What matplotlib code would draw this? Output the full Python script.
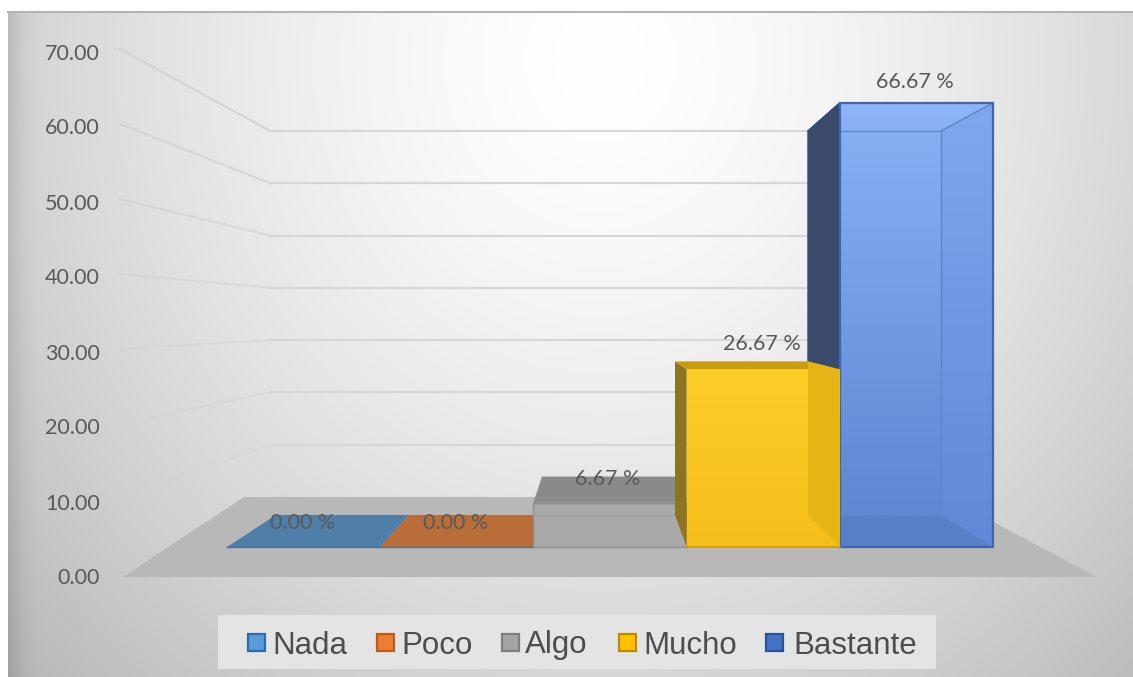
import numpy as np
import matplotlib
matplotlib.use('Agg')
import matplotlib.pyplot as plt
from matplotlib.colors import to_rgb
from matplotlib.patches import Polygon, Rectangle

plt.rcParams['font.family'] = ['Lato', 'DejaVu Sans']

# data
categories = ['Nada', 'Poco', 'Algo', 'Mucho', 'Bastante']
values = [0.00, 0.00, 6.67, 26.67, 66.67]
y_ticks = [0, 10, 20, 30, 40, 50, 60, 70]

legend_colors = ['#5b9bd5', '#ed7d31', '#a5a5a5', '#ffc000', '#4472c4']
legend_edges = ['#2e6da4', '#b65f1f', '#7f7f7f', '#b88c00', '#2f528f']
legend_box_x = [248, 377, 502, 619, 766]
legend_text_x = [272, 401, 525, 643, 793]


# fake 3d projection: front plane and back plane of the bars
def front(i, v):
    return 227 + 153.2 * i, 547 - 6.66 * v


def back(i, v):
    return 276 + 133.0 * i, 515 - 5.76 * v


def gradient_poly(ax, verts, top, bottom, z, alpha=1.0):
    verts = np.array(verts, dtype=float)
    poly = Polygon(verts, closed=True, transform=ax.transData, fc='none', ec='none')
    ax.add_patch(poly)
    c = np.linspace(0, 1, 64)[:, None, None]
    img = (1 - c) * np.array(to_rgb(top)) + c * np.array(to_rgb(bottom))
    im = ax.imshow(img, extent=(verts[:, 0].min(), verts[:, 0].max(),
                                verts[:, 1].max(), verts[:, 1].min()),
                   aspect='auto', zorder=z, alpha=alpha, interpolation='bilinear')
    im.set_clip_path(poly)


fig = plt.figure(figsize=(11.33, 6.77), dpi=100)
ax = fig.add_axes([0, 0, 1, 1])

# background panel
xx, yy = np.meshgrid(np.arange(8, 1133), np.arange(12, 677))
dist = np.sqrt(((xx - 600) / 640) ** 2 + ((yy - 60) / 700) ** 2)
shade = 255 - 50 * np.clip(dist, 0, 1.4) ** 1.5
shade -= 22 * np.clip(1 - (xx - 8) / 35, 0, 1) ** 2
shade = np.clip(shade, 0, 255) / 255
ax.imshow(np.dstack([shade] * 3), extent=(8, 1133, 677, 12), aspect='auto', zorder=0)
ax.plot([8, 1133], [12, 12], color='#b4b4b4', lw=1.5, zorder=1)

# gridlines on side wall and back wall
for t in y_ticks[1:]:
    yl = 574 - 7.5 * t
    yb = 497 - 5.23 * t
    a = 0.15 + 0.75 * t / 70
    ax.plot([120, 270], [yl, yb], color='#d2d2d2', lw=1.5, alpha=a, zorder=2)
    ax.plot([270, 945], [yb, yb], color='#d6d6d6', lw=1.5, zorder=2)

# floor
ax.add_patch(Polygon([(123, 577), (1097, 577), (946, 497), (244, 497)],
                     fc='#b8b8b8', ec='none', zorder=3))

# flat bars (value 0)
for i in range(2):
    v = values[i]
    ax.add_patch(Polygon([front(i, v), front(i + 1, v), back(i + 1, v), back(i, v)],
                         fc=['#4f7ea8', '#b96d38'][i], ec='none', zorder=4))
ax.plot([front(0, 0)[0], front(2, 0)[0]], [547, 547], color='#4f6f8f', lw=1, zorder=4)

# Algo
i = 2
v = values[i]
ax.add_patch(Polygon([back(i, v), back(i + 1, v), front(i + 1, v), front(i, v)],
                     fc='#8a8a8a', ec='none', zorder=5))
ax.add_patch(Polygon([front(i, v), front(i + 1, v), front(i + 1, 0), front(i, 0)],
                     fc='#a9a9a9', ec='#8d8d8d', lw=1, zorder=5))
ax.plot([front(i, 0)[0], front(i + 1, 0)[0]], [back(i, 0)[1]] * 2, color='#a0a0a0', lw=1, zorder=5)

# Bastante
i = 4
v = values[i]
ax.add_patch(Polygon([back(i, v), front(i, v), front(i, 0), back(i, 0)],
                     fc='#3b4a6b', ec='#2f4a7d', lw=1, zorder=6))
gradient_poly(ax, [front(i, v), front(i + 1, v), back(i + 1, v), (front(i, 0)[0], back(i, v)[1])],
              '#8fb5f8', '#8ab0f4', 7)
gradient_poly(ax, [(front(i, 0)[0], back(i, v)[1]), back(i + 1, v), back(i + 1, 0), (front(i, 0)[0], back(i, 0)[1])],
              '#87aef3', '#5f87d2', 7)
gradient_poly(ax, [back(i + 1, v), front(i + 1, v), front(i + 1, 0), back(i + 1, 0)],
              '#80a7ee', '#5f88d6', 7)
ax.add_patch(Polygon([(front(i, 0)[0], back(i, 0)[1]), back(i + 1, 0), front(i + 1, 0), front(i, 0)],
                     fc='#5880c8', ec='none', zorder=7))
ax.add_patch(Polygon([front(i, v), front(i + 1, v), front(i + 1, 0), front(i, 0)],
                     fc='none', ec='#3e66ad', lw=1.6, zorder=9))
for a, b in [(back(i + 1, v), front(i + 1, v)), (back(i + 1, v), back(i + 1, 0)),
             ((front(i, 0)[0], back(i, v)[1]), back(i + 1, v)),
             ((front(i, 0)[0], back(i, 0)[1]), back(i + 1, 0)), (back(i + 1, 0), front(i + 1, 0))]:
    ax.plot([a[0], b[0]], [a[1], b[1]], color='#5b84cf', lw=1, zorder=8)
ax.plot([back(i, v)[0], front(i, v)[0]], [back(i, v)[1], front(i, v)[1]], color='#2f4a7d', lw=1, zorder=8)

# Mucho
i = 3
v = values[i]
ax.add_patch(Polygon([back(i, v), front(i, v), front(i, 0), back(i, 0)],
                     fc='#8c7420', ec='none', zorder=8))
ax.add_patch(Polygon([back(i, v), back(i + 1, v), front(i + 1, v), front(i, v)],
                     fc='#c99c14', ec='none', zorder=9))
gradient_poly(ax, [front(i, v), front(i + 1, v), front(i + 1, 0), front(i, 0)],
              '#fdcd2a', '#f6be1a', 9)
ax.add_patch(Polygon([back(i + 1, v), front(i + 1, v), front(i + 1, 0), back(i + 1, 0)],
                     fc='#e6b414', ec='none', zorder=10))
ax.plot([front(i, 0)[0], front(i + 1, 0)[0]], [547, 547], color='#c89a10', lw=1.2, zorder=10)

# data labels
label_x = [303, 456, 608, 762, 915]
label_y = [523, 523, 479, 344, 82]
for xm, ym, v in zip(label_x, label_y, values):
    ax.text(xm, ym, f'{v:.2f} %', ha='center', va='center',
            fontsize=15.5, color='#595959', zorder=12)

# value axis labels
for t in y_ticks:
    ax.text(100, 578.5 - 7.5 * t, f'{t:.2f}', ha='right', va='center',
            fontsize=15.5, color='#595959', zorder=12)

# legend
ax.add_patch(Rectangle((218, 615), 718, 54, fc='#e4e4e4', ec='none', zorder=11))
for c, col, ed, bx, tx in zip(categories, legend_colors, legend_edges, legend_box_x, legend_text_x):
    ax.add_patch(Rectangle((bx, 634), 17, 17, fc=col, ec=ed, lw=1.6, zorder=12))
    ax.text(tx, 642, c, ha='left', va='center_baseline', fontsize=22.5,
            color='#4d4d4d', family=['Liberation Sans', 'DejaVu Sans'], zorder=12)

ax.set_xlim(0, 1133)
ax.set_ylim(677, 0)
ax.axis('off')
fig.savefig('out.png', dpi=100, facecolor='white')
